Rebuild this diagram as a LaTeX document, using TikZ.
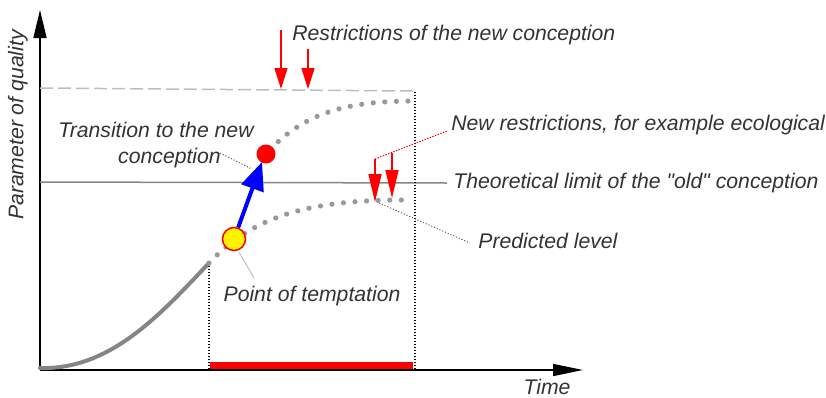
\documentclass[tikz,border=0pt]{standalone}
\usepackage{fontspec}
\setmainfont{Liberation Sans}[Ligatures=TeXOff]
\usetikzlibrary{arrows.meta,positioning,calc}

\definecolor{txtgray}{HTML}{333333}
\definecolor{crvgray}{HTML}{858585}
\definecolor{dotgray}{HTML}{999999}
\definecolor{dashgray}{HTML}{BDBDBD}

\begin{document}
\begin{tikzpicture}[
            x=0.5pt, y=-0.5pt,
            every node/.style={font=\fontsize{10.6}{12.6}\selectfont\itshape, text=txtgray},
            lbl/.style={anchor=west, inner sep=0pt},
            axis/.style={line width=0.75pt, -{Triangle[length=14pt, width=6.5pt]}},
            dotc/.style={dotgray, line width=2.6pt, line cap=round, dash pattern=on 0pt off 5.8pt},
            vdot/.style={black, line width=0.6pt, dash pattern=on 0.6pt off 0.9pt},
            ldr/.style={txtgray!80, line width=0.45pt, dash pattern=on 0.6pt off 0.9pt},
            redarr/.style={red, line width=0.75pt, -{Triangle[length=10.5pt, width=6.5pt]}},
        ]
            \useasboundingbox (0,0) rectangle (826,397);

            % axes
            \coordinate (o) at (40,370);
            \coordinate (ytop) at (40,10);
            \coordinate (xend) at (583,370);
            \draw[axis] (o) -- (ytop);
            \draw[line width=0.75pt, -{Triangle[length=15pt, width=6pt]}] (o) -- (xend);
            \node[rotate=90] (ylab) at (18,125) {Parameter of quality};
            \node[inner sep=0pt] (time) at (547,387) {Time};

            % limits
            \coordinate (dl) at (40,88);
            \coordinate (dr) at (413,91);
            \draw[dashgray, line width=0.75pt, dash pattern=on 6.5pt off 2.5pt] (dl) -- (dr);
            \node[lbl] (theo) at (453,183) {Theoretical limit of the "old" conception};
            \coordinate (tl) at (40,182);
            \draw[crvgray, line width=0.75pt] (tl) -- ([xshift=-3pt]theo.west);

            % time window
            \coordinate (wl) at (209,263);
            \coordinate (wlb) at (209,370);
            \coordinate (wr) at (415,92);
            \coordinate (wrb) at (415,370);
            \draw[vdot] (wl) -- (wlb);
            \draw[vdot] (wr) -- (wrb);
            \coordinate (bl) at (210,362);
            \coordinate (br) at (413,369);
            \fill[red] (bl) rectangle (br);

            % curves
            \draw[crvgray, line width=2pt, line cap=round] (o) ++(0,-2) .. controls (110,370) and (160,315) .. (wl);
            \draw[dotc] (wl) .. controls (250,220) and (300,200) .. (403,200);
            \coordinate (nw) at (262,158);
            \draw[dotc] (nw) .. controls (300,115) and (340,101) .. (415,101);

            % points
            \node[circle, fill=red, inner sep=0pt, minimum size=9.5pt] (newpt) at (266,154) {};
            \node[circle, draw=red, line width=0.75pt, fill=yellow, inner sep=0pt, minimum size=11.5pt] (tpt) at (234,239) {};
            \coordinate (tip) at (262,162);
            \draw[blue, line width=2pt, -{Triangle[length=14pt, width=11.5pt]}] (tpt) -- (tip);

            % restrictions of the new conception
            \node[lbl] (restr) at (292,35) {Restrictions of the new conception};
            \coordinate (r1) at (281,30);
            \coordinate (r1t) at (281,89);
            \coordinate (r2) at (308,49);
            \coordinate (r2t) at (308,89);
            \draw[redarr] (r1) -- (r1t);
            \draw[redarr] (r2) -- (r2t);

            % new restrictions
            \node[lbl] (newr) at (451,125) {New restrictions, for example ecological};
            \coordinate (n1) at (375,159);
            \coordinate (n1t) at (375,202);
            \coordinate (n2) at (392,153);
            \coordinate (n2t) at (392,198);
            \draw[redarr, -{Triangle[length=14pt, width=6.5pt]}] (n1) -- (n1t);
            \draw[redarr, -{Triangle[length=14pt, width=6.5pt]}] (n2) -- (n2t);
            \coordinate (nl) at (447,131);
            \draw[red, line width=0.5pt, dash pattern=on 0.7pt off 0.7pt] (n1) -- (nl);

            % predicted level
            \node[lbl] (pred) at (478,241) {Predicted level};
            \coordinate (pl) at (379,203);
            \draw[ldr] (pl) -- ([xshift=-4pt,yshift=-1pt]pred.west);

            % transition
            \node[align=center] (trans) at (156,145) {Transition to the new\\\hspace*{13.5pt}conception};
            \coordinate (ts) at (220,153);
            \coordinate (te) at (252,169);
            \draw[ldr] (ts) -- (te);

            % temptation
            \node (tempt) at (312,296) {Point of temptation};
            \coordinate (ps) at (239,252);
            \coordinate (pe) at (254,278);
            \draw[black!25, line width=0.5pt] (ps) -- (pe);
        \end{tikzpicture}
\end{document}
